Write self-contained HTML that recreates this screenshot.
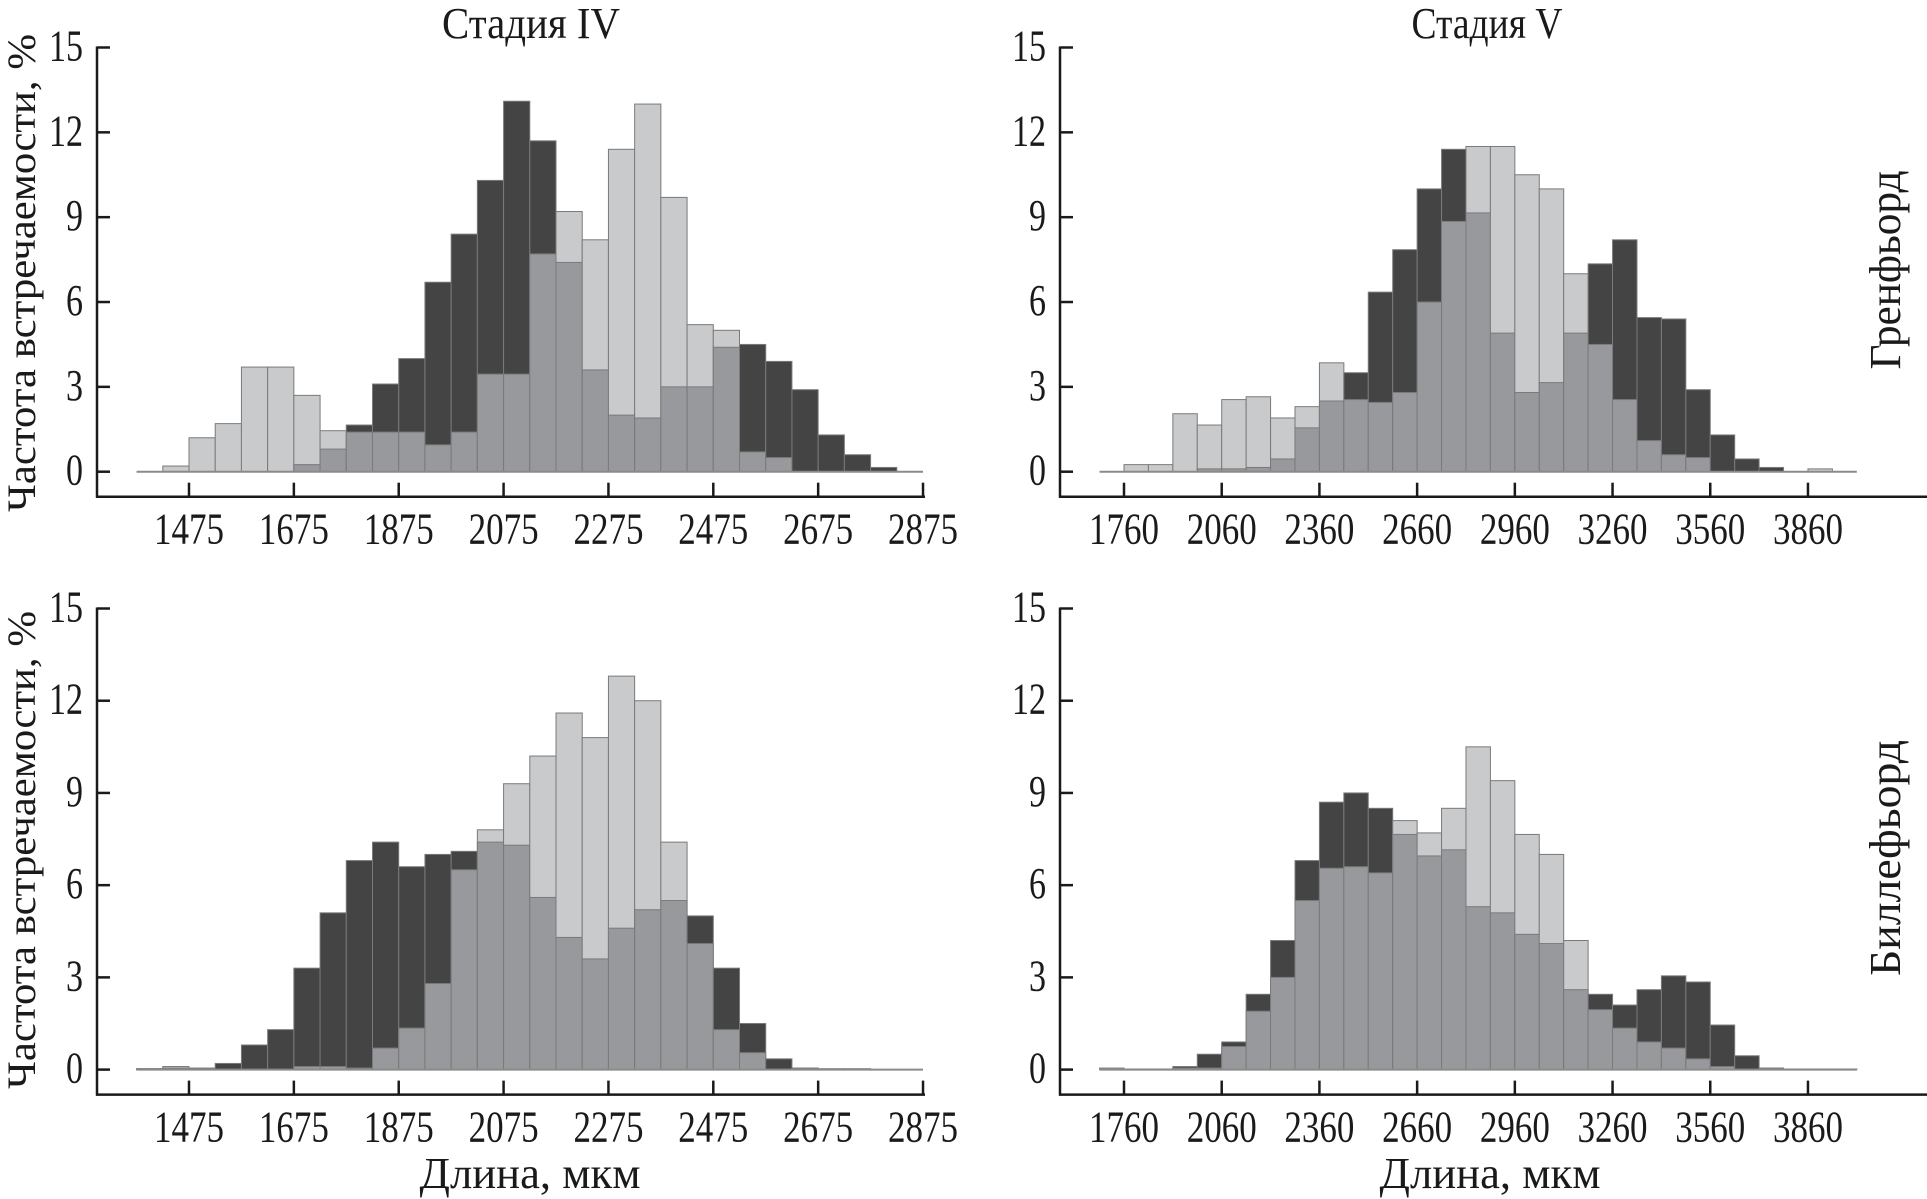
<!DOCTYPE html>
<html><head><meta charset="utf-8">
<style>
html,body{margin:0;padding:0;background:#fff;}
svg{display:block;}
text{font-family:"Liberation Serif","DejaVu Serif",serif;fill:#1a1a1a;}
</style></head>
<body>
<svg id="chart" width="1927" height="1199" viewBox="0 0 1927 1199" xmlns="http://www.w3.org/2000/svg">
<text x="531" y="38" font-size="44" text-anchor="middle" textLength="178" lengthAdjust="spacingAndGlyphs">Стадия IV</text>
<text x="1487" y="38" font-size="44" text-anchor="middle" textLength="151" lengthAdjust="spacingAndGlyphs">Стадия V</text>
<text transform="translate(35,273) rotate(-90)" font-size="40" text-anchor="middle" textLength="478" lengthAdjust="spacingAndGlyphs">Частота встречаемости, %</text>
<text transform="translate(35,850) rotate(-90)" font-size="40" text-anchor="middle" textLength="478" lengthAdjust="spacingAndGlyphs">Частота встречаемости, %</text>
<text transform="translate(1900,270) rotate(-90)" font-size="44" text-anchor="middle" textLength="199" lengthAdjust="spacingAndGlyphs">Гренфьорд</text>
<text transform="translate(1900,858) rotate(-90)" font-size="44" text-anchor="middle" textLength="236" lengthAdjust="spacingAndGlyphs">Биллефьорд</text>
<text x="530" y="1188" font-size="44" text-anchor="middle" textLength="221" lengthAdjust="spacingAndGlyphs">Длина, мкм</text>
<text x="1490" y="1188" font-size="44" text-anchor="middle" textLength="221" lengthAdjust="spacingAndGlyphs">Длина, мкм</text>
</svg>
<script>
// ---- data ----
const yTicks = [0, 3, 6, 9, 12, 15];
const ivTickLabels = [1475, 1675, 1875, 2075, 2275, 2475, 2675, 2875];
const vTickLabels = [1760, 2060, 2360, 2660, 2960, 3260, 3560, 3860];
const ivBinStart = 1375, ivBinWidth = 50;
const vBinStart = 1685, vBinWidth = 75;
const ivGrenLight = [0,0.2,1.2,1.7,3.7,3.7,2.7,1.45,1.4,1.4,1.4,0.95,1.4,3.45,3.45,7.7,9.2,8.2,11.4,13.0,9.7,5.2,5.0,0.7,0.5,0,0,0,0,0];
const ivGrenDark  = [0,0,0,0,0,0,0.25,0.8,1.65,3.1,4.0,6.7,8.4,10.3,13.1,11.7,7.4,3.6,2.0,1.9,3.0,3.0,4.4,4.5,3.9,2.9,1.3,0.6,0.15,0];
const ivBillLight = [0.03,0.1,0.05,0,0,0,0.1,0.1,0.05,0.7,1.35,2.8,6.5,7.8,9.3,10.2,11.6,10.8,12.8,12.0,7.4,4.1,1.3,0.55,0,0.05,0.03,0.03,0,0];
const ivBillDark  = [0.03,0.05,0.03,0.2,0.8,1.3,3.3,5.1,6.8,7.4,6.6,7.0,7.1,7.4,7.3,5.6,4.3,3.6,4.6,5.2,5.5,5.0,3.3,1.5,0.35,0.05,0,0,0,0];
const vGrenLight = [0,0.25,0.25,2.05,1.65,2.55,2.65,1.9,2.3,3.85,2.55,2.45,2.8,6.0,8.85,11.5,11.5,10.5,10.0,7.0,4.5,2.55,1.1,0.6,0.5,0,0,0,0,0.1,0];
const vGrenDark  = [0,0,0,0,0.1,0.1,0.15,0.45,1.55,2.5,3.5,6.35,7.85,10.0,11.4,9.15,4.9,2.8,3.15,4.9,7.35,8.2,5.45,5.4,2.9,1.3,0.45,0.15,0,0,0];
const vBillLight = [0.05,0.02,0.02,0.05,0.05,0.75,1.9,3.0,5.5,6.55,6.6,6.4,8.1,7.7,8.5,10.5,9.4,7.65,7.0,4.2,1.95,1.35,0.9,0.7,0.35,0.1,0,0.05,0.02,0.02,0.02];
const vBillDark  = [0,0,0,0.1,0.5,0.9,2.45,4.2,6.8,8.7,9.0,8.5,7.65,6.95,7.15,5.3,5.1,4.4,4.1,2.6,2.45,2.1,2.6,3.05,2.85,1.45,0.45,0.05,0,0,0];

const NS = "http://www.w3.org/2000/svg";
const svg = document.getElementById('chart');
function mk(tag, attrs){const e=document.createElementNS(NS,tag);for(const k in attrs)e.setAttribute(k,attrs[k]);svg.appendChild(e);return e;}

function panel(id, axX, axEnd, y0, yTop, xRef, xRefPx, pxPerUnit, binStart, binWidth, light, dark, ticks){
  const yScale = v => y0 - v*(y0 - yTop)/15;
  const xScale = v => xRefPx + (v - xRef)*pxPerUnit;
  const axisY = y0 + 25;
  for(let i=0;i<light.length;i++){
    const xa = xScale(binStart + i*binWidth), xb = xScale(binStart + (i+1)*binWidth);
    const l = light[i], d = dark[i];
    const hi = Math.max(l,d), lo = Math.min(l,d);
    if(hi>0){
      const r = mk('rect',{x:xa,y:yScale(hi),width:xb-xa,height:y0-yScale(hi),fill:(l>=d?'#c9cacc':'#444444'),stroke:'#7a7a7a','stroke-width':1});
      
      
    }
    if(lo>0){
      const r2 = mk('rect',{x:xa,y:yScale(lo),width:xb-xa,height:y0-yScale(lo),fill:'#98999c',stroke:'#7a7a7a','stroke-width':1});
      
      
    }
  }
  const bl = mk('line',{x1:xScale(binStart),x2:xScale(binStart+light.length*binWidth),y1:y0,y2:y0,stroke:'#8a8a8a','stroke-width':2});
  
  
  const ya = mk('line',{x1:axX,x2:axX,y1:yTop-1,y2:axisY+1,stroke:'#1a1a1a','stroke-width':2.5});
  
  
  const xa = mk('line',{x1:axX-1,x2:axEnd,y1:axisY,y2:axisY,stroke:'#1a1a1a','stroke-width':2.5});
  
  
  yTicks.forEach(v=>{
    const y = yScale(v);
    const t = mk('line',{x1:axX,x2:axX+13,y1:y,y2:y,stroke:'#1a1a1a','stroke-width':2.5});
    
    
    const s = String(v);
    const tx = mk('text',{x:axX-14,y:y+13,'font-size':44,'text-anchor':'end',textLength:s.length*17,lengthAdjust:'spacingAndGlyphs'});
    tx.textContent = s;
    
    
  });
  ticks.forEach(v=>{
    const x = xScale(v);
    const t = mk('line',{x1:x,x2:x,y1:axisY-14,y2:axisY,stroke:'#1a1a1a','stroke-width':2.5});
    
    
    const tx = mk('text',{x:x,y:axisY+47,'font-size':44,'text-anchor':'middle',textLength:70,lengthAdjust:'spacingAndGlyphs'});
    tx.textContent = v;
    
    
  });
}
panel('iv-grenfjord', 97, 925, 471.7, 47.5, 1475, 189, 0.5243, ivBinStart, ivBinWidth, ivGrenLight, ivGrenDark, ivTickLabels);
panel('v-grenfjord', 1060, 1927, 471.7, 47.5, 1760, 1124, 0.3257, vBinStart, vBinWidth, vGrenLight, vGrenDark, vTickLabels);
panel('iv-billefjord', 97, 925, 1069.6, 608.5, 1475, 189, 0.5243, ivBinStart, ivBinWidth, ivBillLight, ivBillDark, ivTickLabels);
panel('v-billefjord', 1060, 1927, 1069.6, 608.5, 1760, 1124, 0.3257, vBinStart, vBinWidth, vBillLight, vBillDark, vTickLabels);
</script>
</body></html>
